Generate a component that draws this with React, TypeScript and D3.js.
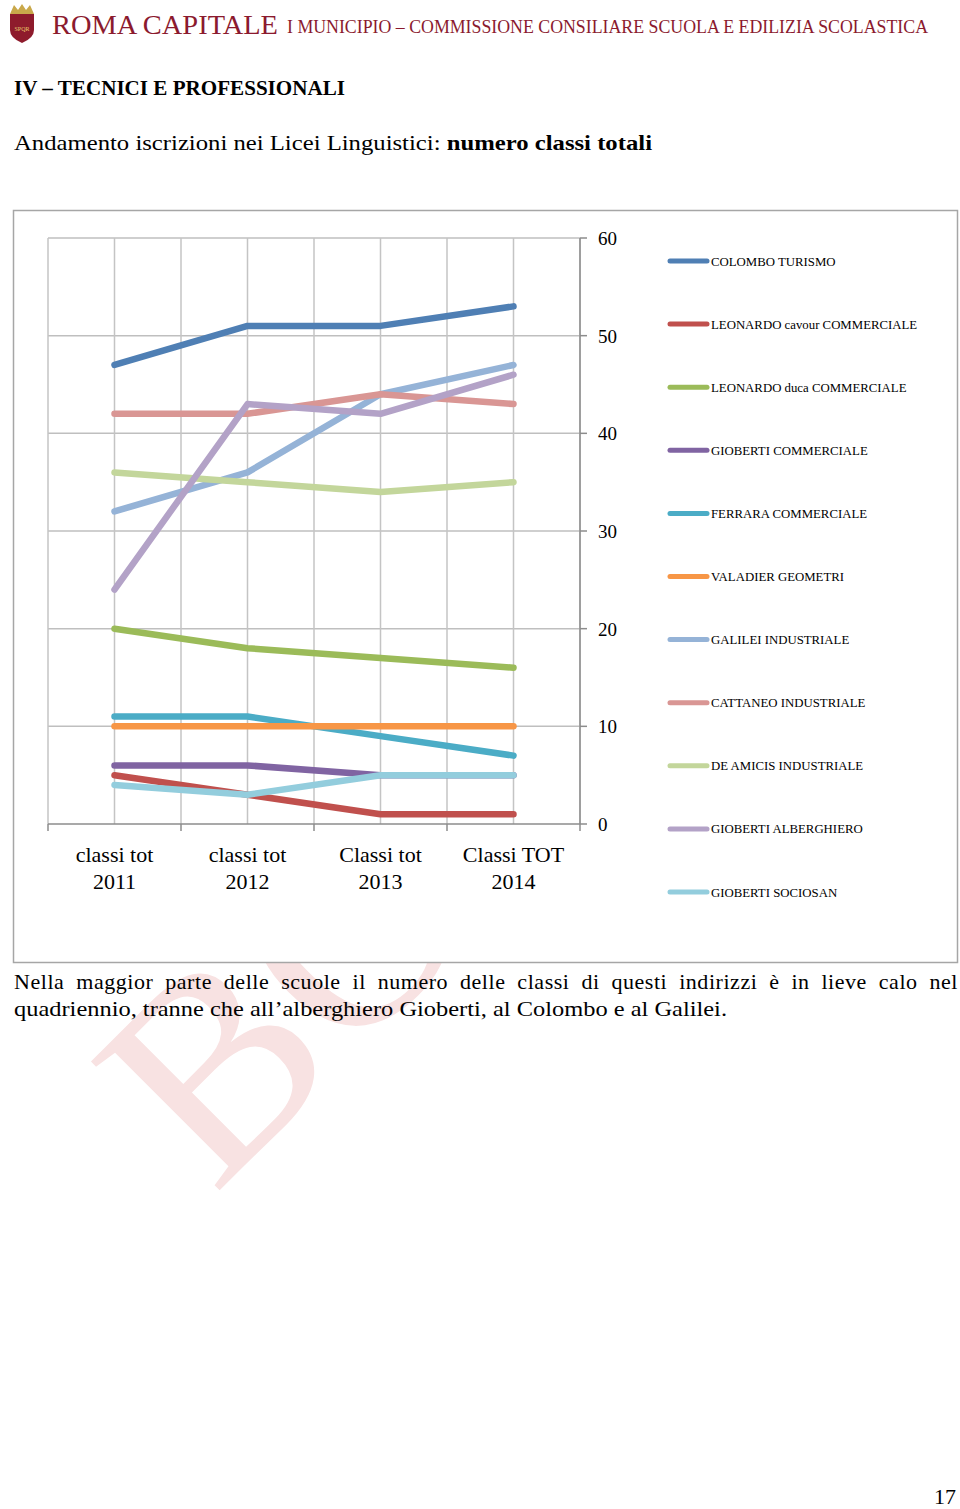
import React, { useLayoutEffect, useRef } from "react";
import * as d3 from "d3";

const categories = ["classi tot\n2011", "classi tot\n2012", "Classi tot\n2013", "Classi TOT\n2014"];
const yTicks = [0, 10, 20, 30, 40, 50, 60];

const seriesNames = [
  "COLOMBO TURISMO",
  "LEONARDO cavour COMMERCIALE",
  "LEONARDO duca COMMERCIALE",
  "GIOBERTI COMMERCIALE",
  "FERRARA COMMERCIALE",
  "VALADIER GEOMETRI",
  "GALILEI INDUSTRIALE",
  "CATTANEO INDUSTRIALE",
  "DE AMICIS INDUSTRIALE",
  "GIOBERTI ALBERGHIERO",
  "GIOBERTI SOCIOSAN",
];
const colomboTurismo = [47, 51, 51, 53];
const leonardoCavour = [5, 3, 1, 1];
const leonardoDuca = [20, 18, 17, 16];
const giobertiCommerciale = [6, 6, 5, 5];
const ferraraCommerciale = [11, 11, 9, 7];
const valadierGeometri = [10, 10, 10, 10];
const galileiIndustriale = [32, 36, 44, 47];
const cattaneoIndustriale = [42, 42, 44, 43];
const deAmicisIndustriale = [36, 35, 34, 35];
const giobertiAlberghiero = [24, 43, 42, 46];
const giobertiSociosan = [4, 3, 5, 5];

const seriesValues = [
  colomboTurismo, leonardoCavour, leonardoDuca, giobertiCommerciale, ferraraCommerciale,
  valadierGeometri, galileiIndustriale, cattaneoIndustriale, deAmicisIndustriale,
  giobertiAlberghiero, giobertiSociosan,
];
const seriesColors = [
  "#4F7FB4", "#C0504D", "#9BBB59", "#8064A2", "#4BACC6", "#F79646",
  "#95B3D7", "#D99694", "#C3D69B", "#B3A2C7", "#93CDDD",
];

const bodyLine1 = "Nella maggior parte delle scuole il numero delle classi di questi indirizzi è in lieve calo nel";
const bodyLine2 = "quadriennio, tranne che all’alberghiero Gioberti, al Colombo e al Galilei.";

const FONT = "'Liberation Serif', 'DejaVu Serif', serif";

export default function App() {
  const justifyRef = useRef<SVGTextElement>(null);
  useLayoutEffect(() => {
    const el = justifyRef.current;
    if (!el) return;
    el.setAttribute("word-spacing", "0");
    const len = el.getComputedTextLength();
    const spaces = (bodyLine1.match(/ /g) || []).length;
    const ws = Math.max(0, (944 - len) / spaces);
    el.setAttribute("word-spacing", String(ws));
  }, []);

  const plotLeft = 48, plotRight = 580, plotTop = 238, plotBottom = 824;
  const x = d3.scaleBand<string>().domain(categories).range([plotLeft, plotRight]).paddingInner(0).paddingOuter(0);
  const y = d3.scaleLinear().domain([0, 60]).range([plotBottom, plotTop]);
  const cx = (c: string) => (x(c) as number) + x.bandwidth() / 2;
  const line = d3.line<number>().x((_, i) => cx(categories[i])).y((v) => y(v));

  const vGrid: number[] = [];
  categories.forEach((c) => {
    vGrid.push(x(c) as number);
    vGrid.push(cx(c));
  });
  vGrid.push(plotRight);
  const boundaries = categories.map((c) => x(c) as number).concat([plotRight]);

  const legendY = d3.scalePoint<string>().domain(seriesNames).range([261, 892]);

  return (
    <svg width={960} height={1509} style={{ position: "absolute", left: 0, top: 0, background: "#fff" }}>
      <rect x={0} y={0} width={960} height={1509} fill="#fff" />
      {/* watermark */}
      <text
        transform="translate(214,1196) rotate(-45)"
        fontFamily={FONT}
        fontSize={278}
        fill="#F8E2E2"
      >
        BOZZA
      </text>

      {/* header */}
      <g>
        <path d="M10,14 L34,14 L34,30 Q34,38 22,43 Q10,38 10,30 Z" fill="#8E1B2C" />
        <path d="M10,14 L14,5 L18,10 L22,4 L26,10 L30,5 L34,14 Z" fill="#C9A84A" />
        <text x={22} y={31} textAnchor="middle" fontSize={6} fill="#E8C76A" fontFamily={FONT}>SPQR</text>
      </g>
      <text x={52} y={34} fontFamily={FONT} fontSize={28} fill="#8B1A2E" textLength={226} lengthAdjust="spacingAndGlyphs">
        ROMA CAPITALE
      </text>
      <text x={287} y={33} fontFamily={FONT} fontSize={18} fill="#8B1A2E" textLength={641} lengthAdjust="spacingAndGlyphs">
        I MUNICIPIO – COMMISSIONE CONSILIARE SCUOLA E EDILIZIA SCOLASTICA
      </text>

      <text x={14} y={95} fontFamily={FONT} fontSize={22} fontWeight="bold" fill="#000" textLength={331} lengthAdjust="spacingAndGlyphs">
        IV – TECNICI E PROFESSIONALI
      </text>
      <text x={14} y={150} fontFamily={FONT} fontSize={22} fill="#000" textLength={638} lengthAdjust="spacingAndGlyphs">
        Andamento iscrizioni nei Licei Linguistici: <tspan fontWeight="bold">numero classi totali</tspan>
      </text>

      {/* chart frame */}
      <rect x={13.5} y={210.5} width={944} height={752} fill="#fff" stroke="#A6A6A6" strokeWidth={1.5} />

      {/* gridlines */}
      {yTicks.filter((t) => t > 0).map((t) => (
        <line key={"h" + t} x1={plotLeft} x2={plotRight} y1={y(t)} y2={y(t)} stroke="#BFBFBF" strokeWidth={1.5} />
      ))}
      {vGrid.map((gx, i) => (
        <line key={"v" + i} x1={gx} x2={gx} y1={plotTop} y2={plotBottom} stroke="#C4C4C4" strokeWidth={1.5} />
      ))}

      {/* axes */}
      <line x1={plotLeft} x2={plotRight} y1={plotBottom} y2={plotBottom} stroke="#8C8C8C" strokeWidth={1.5} />
      {boundaries.map((bx, i) => (
        <line key={"bt" + i} x1={bx} x2={bx} y1={plotBottom} y2={plotBottom + 7} stroke="#8C8C8C" strokeWidth={1.5} />
      ))}
      <line x1={plotRight} x2={plotRight} y1={plotTop} y2={plotBottom} stroke="#8C8C8C" strokeWidth={1.5} />
      {yTicks.map((t) => (
        <g key={"yt" + t}>
          <line x1={plotRight} x2={plotRight + 7} y1={y(t)} y2={y(t)} stroke="#8C8C8C" strokeWidth={1.5} />
          <text x={598} y={y(t) + 7} fontFamily={FONT} fontSize={19} fill="#000">{t}</text>
        </g>
      ))}
      {categories.map((c) => {
        const [l1, l2] = c.split("\n");
        return (
          <text key={c} x={cx(c)} textAnchor="middle" fontFamily={FONT} fontSize={22} fill="#000">
            <tspan x={cx(c)} y={862}>{l1}</tspan>
            <tspan x={cx(c)} y={889}>{l2}</tspan>
          </text>
        );
      })}

      {/* series lines */}
      {seriesValues.map((vals, i) => (
        <path
          key={seriesNames[i]}
          d={line(vals) as string}
          fill="none"
          stroke={seriesColors[i]}
          strokeWidth={6.5}
          strokeLinecap="round"
          strokeLinejoin="round"
        />
      ))}

      {/* legend */}
      {seriesNames.map((n, i) => {
        const ly = legendY(n) as number;
        return (
          <g key={"lg" + n}>
            <line x1={670} x2={707} y1={ly} y2={ly} stroke={seriesColors[i]} strokeWidth={5} strokeLinecap="round" />
            <text x={711} y={ly + 4.5} fontFamily={FONT} fontSize={12.8} fill="#000">{n}</text>
          </g>
        );
      })}

      {/* body text */}
      <text ref={justifyRef} x={14} y={989} fontFamily={FONT} fontSize={22} letterSpacing={0.55} fill="#000">
        {bodyLine1}
      </text>
      <text x={14} y={1016} fontFamily={FONT} fontSize={22} fill="#000" textLength={713} lengthAdjust="spacingAndGlyphs">
        {bodyLine2}
      </text>
      <text x={956} y={1504} textAnchor="end" fontFamily={FONT} fontSize={22} fill="#000">17</text>
    </svg>
  );
}
